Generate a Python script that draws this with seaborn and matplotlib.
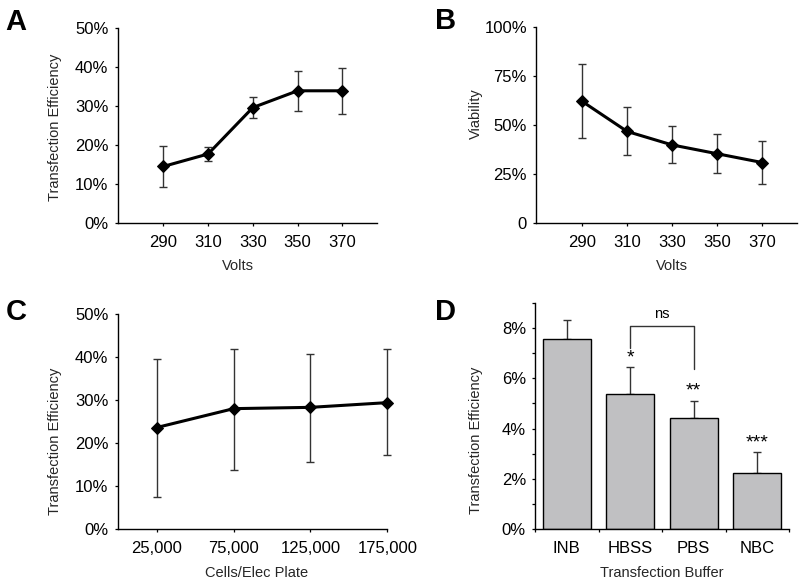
import numpy as np
import pandas as pd
import matplotlib
matplotlib.use("Agg")
import matplotlib.pyplot as plt
import seaborn as sns

# ---------------- data ----------------
volts = [290, 310, 330, 350, 370]
eff_a = [14.5, 17.7, 29.6, 33.9, 33.9]
eff_a_lo = [9.2, 15.8, 27.0, 28.8, 27.9]
eff_a_hi = [19.7, 19.5, 32.2, 39.0, 39.8]

viab_b = [62.1, 46.7, 39.8, 35.3, 30.8]
viab_b_lo = [43.5, 34.8, 30.8, 25.4, 19.6]
viab_b_hi = [81.0, 59.2, 49.3, 45.5, 41.6]

cells = [25000, 75000, 125000, 175000]
eff_c = [23.6, 28.0, 28.3, 29.4]
eff_c_lo = [7.5, 13.8, 15.5, 17.2]
eff_c_hi = [39.6, 42.0, 40.8, 42.0]

buffers = ["INB", "HBSS", "PBS", "NBC"]
eff_d = [7.57, 5.38, 4.43, 2.24]
eff_d_hi = [8.32, 6.46, 5.08, 3.06]
signif = ["", "*", "**", "***"]

# ---------------- style ----------------
sns.set_theme(style="ticks")
plt.rcParams["font.family"] = ["Liberation Sans", "DejaVu Sans"]
plt.rcParams["axes.linewidth"] = 1.0
plt.rcParams["xtick.major.size"] = 2.5
plt.rcParams["ytick.major.size"] = 2.5
plt.rcParams["xtick.major.width"] = 0.9
plt.rcParams["ytick.major.width"] = 0.9
plt.rcParams["xtick.color"] = "black"
plt.rcParams["ytick.color"] = "black"
plt.rcParams["axes.edgecolor"] = "black"

W, H = 800, 585
fig = plt.figure(figsize=(8, 5.85), dpi=100)


def make_ax(left, right, top, bottom):
    return fig.add_axes([left / W, 1 - bottom / H, (right - left) / W, (bottom - top) / H])


def place_labels(ax, box, ylab_px, xlab_px):
    left, right, top, bottom = box
    yx, yy = ylab_px
    xx, xy = xlab_px
    ax.yaxis.set_label_coords((yx - left) / (right - left), (bottom - yy) / (bottom - top))
    ax.xaxis.set_label_coords((xx - left) / (right - left), (bottom - xy) / (bottom - top))


TICK_FS = 12
LAB_FS = 10.5
ERR_C = "#333333"


def line_panel(ax, x, y, lo, hi):
    df = pd.DataFrame({"x": x, "y": y})
    eb = ax.errorbar(x, y, yerr=[np.array(y) - np.array(lo), np.array(hi) - np.array(y)],
                     fmt="none", ecolor=ERR_C, elinewidth=1.0, capsize=2.7, capthick=1.0, zorder=1)
    for art in eb.lines[1] + eb.lines[2]:
        art.set_clip_on(False)
    sns.lineplot(data=df, x="x", y="y", ax=ax, color="black", lw=2.2, marker="D",
                 markersize=6.5, markeredgecolor="black", zorder=3, clip_on=False)
    sns.despine(ax=ax)
    ax.tick_params(labelsize=TICK_FS, pad=4)
    ax.tick_params(axis="x", pad=6)


# ---- Panel A ----
boxA = (117.5, 377, 28, 223)
axA = make_ax(*boxA)
line_panel(axA, volts, eff_a, eff_a_lo, eff_a_hi)
axA.set_xlim(269.5, 385.5)
axA.set_ylim(0, 50)
axA.set_xticks(volts)
axA.set_yticks([0, 10, 20, 30, 40, 50])
axA.set_yticklabels([f"{v}%" for v in [0, 10, 20, 30, 40, 50]])
axA.set_xlabel("Volts", fontsize=LAB_FS)
axA.set_ylabel("Transfection Efficiency", fontsize=LAB_FS)
place_labels(axA, boxA, (62, 127), (238, 259))

# ---- Panel B ----
boxB = (536, 797, 27.3, 222.7)
axB = make_ax(*boxB)
line_panel(axB, volts, viab_b, viab_b_lo, viab_b_hi)
axB.set_xlim(269.5, 385.5)
axB.set_ylim(0, 100)
axB.set_xticks(volts)
axB.set_yticks([0, 25, 50, 75, 100])
axB.set_yticklabels(["0", "25%", "50%", "75%", "100%"])
axB.set_xlabel("Volts", fontsize=LAB_FS)
axB.set_ylabel("Viability", fontsize=LAB_FS)
place_labels(axB, boxB, (483, 114), (672, 259))

# ---- Panel C ----
boxC = (117.5, 387.3, 314.3, 528.7)
axC = make_ax(*boxC)
line_panel(axC, cells, eff_c, eff_c_lo, eff_c_hi)
axC.set_xlim(-600, 175000)
axC.set_ylim(0, 50)
axC.set_xticks(cells)
axC.set_xticklabels([f"{c:,}" for c in cells])
axC.set_yticks([0, 10, 20, 30, 40, 50])
axC.set_yticklabels([f"{v}%" for v in [0, 10, 20, 30, 40, 50]])
axC.set_xlabel("Cells/Elec Plate", fontsize=LAB_FS)
axC.set_ylabel("Transfection Efficiency", fontsize=LAB_FS)
place_labels(axC, boxC, (62, 441.7), (256.7, 566))

# ---- Panel D ----
boxD = (535, 789, 302.7, 529.3)
axD = make_ax(*boxD)
dfD = pd.DataFrame({"buffer": buffers, "eff": eff_d})
sns.barplot(data=dfD, x="buffer", y="eff", ax=axD, color="#c0c0c2", saturation=1,
            edgecolor="black", linewidth=1.0, width=0.76, errorbar=None, zorder=2)
pos = np.arange(len(buffers))
axD.errorbar(pos, eff_d, yerr=[np.zeros(len(eff_d)), np.array(eff_d_hi) - np.array(eff_d)],
             fmt="none", ecolor=ERR_C, elinewidth=1.0, capsize=3, capthick=1.0, zorder=1)
sns.despine(ax=axD)
axD.set_xlim(-0.5, len(buffers) - 0.5)
axD.set_ylim(0, 9)
axD.set_yticks(np.arange(0, 10, 1))
axD.set_yticklabels([f"{v}%" if v % 2 == 0 else "" for v in range(10)])
axD.set_xticks(np.arange(-0.5, len(buffers), 1.0))
axD.set_xticklabels([])
axD.set_xticks(pos, minor=True)
axD.set_xticklabels(buffers, minor=True)
axD.tick_params(axis="x", which="minor", length=0, labelsize=TICK_FS, pad=8.5)
axD.tick_params(axis="y", labelsize=TICK_FS, pad=4)
axD.set_xlabel("Transfection Buffer", fontsize=LAB_FS)
axD.set_ylabel("Transfection Efficiency", fontsize=LAB_FS)
place_labels(axD, boxD, (483, 440), (661.7, 566))

ast_base = [0, 6.62, 5.33, 3.24]
for i, s in enumerate(signif):
    if s:
        axD.text(pos[i], ast_base[i], s, ha="center", va="baseline", fontsize=14, color="black")
axD.plot([1, 1, 2, 2], [7.2, 8.08, 8.08, 6.36], color=ERR_C, lw=1.0, clip_on=False)
axD.text(1.5, 8.38, "ns", ha="center", va="baseline", fontsize=10.5, color="black")

# ---- panel letters ----
for letter, (px, py) in zip("ABCD", [(5, 8), (435, 7), (6, 298), (435, 298)]):
    fig.text(px / W, 1 - py / H, letter, fontsize=21, fontweight="bold",
             ha="left", va="top", color="black")

fig.savefig("out.png", dpi=100)
